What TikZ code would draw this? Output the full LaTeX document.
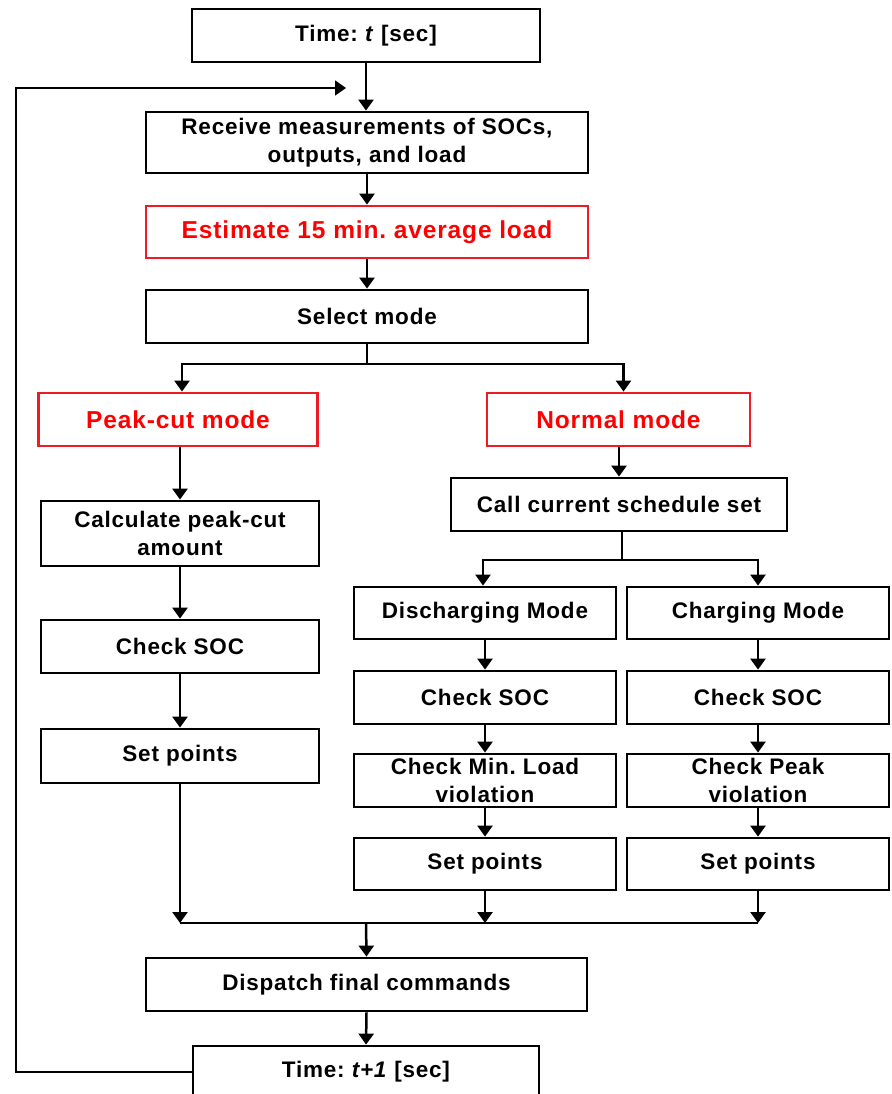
\documentclass[tikz,border=0pt]{standalone}
\usepackage{fontspec}
\setmainfont{Liberation Sans}[LetterSpace=3.5]
\usetikzlibrary{arrows.meta,calc}
\definecolor{boxred}{RGB}{237,28,36}
\definecolor{txtred}{RGB}{255,0,0}
\frenchspacing
\begin{document}
\begin{tikzpicture}[x=1pt,y=-1pt,
  box/.style={draw=black, line width=2.8pt, inner sep=0pt, align=center,
    font=\fontsize{22.5}{28}\selectfont\bfseries},
  redbox/.style={box, draw=boxred, text=txtred, font=\fontsize{24.5}{30}\selectfont\bfseries},
  line/.style={line width=2.5pt},
  arr/.style={line, -{Triangle[length=11pt,width=15pt]}},
]
\clip (0,0) rectangle (891,1094);
\useasboundingbox (0,0) rectangle (891,1094);

% main column
\node[box, minimum width=348pt, minimum height=53pt] (t0) at (366,35.5) {Time: \textit{t} [sec]};
\node[box, minimum width=442pt, minimum height=61pt] (recv) at (367,142.5) {Receive measurements of SOCs,\\outputs, and load};
\node[redbox, minimum width=442pt, minimum height=52pt] (est) at (367,232) {Estimate 15 min. average load};
\node[box, minimum width=442pt, minimum height=53pt] (sel) at (367,316.5) {Select mode};

% peak-cut branch
\node[redbox, minimum width=279pt, minimum height=53pt] (peak) at (178,419.5) {Peak-cut mode};
\node[box, minimum width=278pt, minimum height=65pt] (calc) at (180,533.5) {Calculate peak-cut\\amount};
\node[box, minimum width=278pt, minimum height=53pt] (csoc1) at (180,646.5) {Check SOC};
\node[box, minimum width=278pt, minimum height=54pt] (setp1) at (180,756) {Set points};

% normal branch
\node[redbox, minimum width=263pt, minimum height=53pt] (norm) at (618.5,419.5) {Normal mode};
\node[box, minimum width=336pt, minimum height=53pt] (call) at (619,504.5) {Call current schedule set};
\node[box, minimum width=262pt, minimum height=52pt] (dis) at (485,613) {Discharging Mode};
\node[box, minimum width=262pt, minimum height=52pt] (chg) at (758,613) {Charging Mode};
\node[box, minimum width=262pt, minimum height=53pt] (csoc2) at (485,697.5) {Check SOC};
\node[box, minimum width=262pt, minimum height=53pt] (csoc3) at (758,697.5) {Check SOC};
\node[box, minimum width=262pt, minimum height=53pt] (minl) at (485,780.5) {Check Min. Load\\violation};
\node[box, minimum width=262pt, minimum height=53pt] (peakv) at (758,780.5) {Check Peak\\violation};
\node[box, minimum width=262pt, minimum height=52pt] (setp2) at (485,864) {Set points};
\node[box, minimum width=262pt, minimum height=52pt] (setp3) at (758,864) {Set points};

% bottom
\node[box, minimum width=441pt, minimum height=53pt] (disp) at (366.5,984.5) {Dispatch final commands};
\node[box, minimum width=346pt, minimum height=52pt] (t1) at (366,1072) {Time: \textit{t+1} [sec]};

% helper coordinates
\coordinate (fbend) at (346,88);
\coordinate (fbx) at (16,88);
\coordinate (s1) at (366,364);
\coordinate (s2) at (622,560);
\coordinate (m) at (366,923);

% connectors main
\draw[arr] (t0.south) -- (t0.south |- recv.north);
\draw[arr] (recv.south) -- (est.north);
\draw[arr] (est.south) -- (sel.north);
\draw[line] (sel.south) -- (sel.south |- s1);
\draw[arr] (sel.south |- s1) -| ([xshift=4pt]peak.north);
\draw[arr] (sel.south |- s1) -| ([xshift=5pt]norm.north);

% peak-cut
\draw[arr] (peak.south -| calc.north) -- (calc.north);
\draw[arr] (calc.south) -- (csoc1.north);
\draw[arr] (csoc1.south) -- (setp1.north);

% normal
\draw[arr] (norm.south -| call.north) -- (call.north);
\draw[line] ([xshift=3pt]call.south) -- (s2);
\draw[arr] (s2) -| ([xshift=-2pt]dis.north);
\draw[arr] (s2) -| (chg.north);
\draw[arr] (dis.south) -- (csoc2.north);
\draw[arr] (chg.south) -- (csoc3.north);
\draw[arr] (csoc2.south) -- (minl.north);
\draw[arr] (csoc3.south) -- (peakv.north);
\draw[arr] (minl.south) -- (setp2.north);
\draw[arr] (peakv.south) -- (setp3.north);

% merge
\draw[arr] (setp1.south) -- (setp1.south |- m);
\draw[arr] (setp2.south) -- (setp2.south |- m);
\draw[arr] (setp3.south) -- (setp3.south |- m);
\draw[line] (setp1.south |- m) -- (setp3.south |- m);
\draw[arr] (m) -- (disp.north);
\draw[arr] (disp.south) -- (t1.north);

% feedback
\draw[arr, line width=1.8pt] (t1.west) -| (fbx) -- (fbend);
\end{tikzpicture}
\end{document}
